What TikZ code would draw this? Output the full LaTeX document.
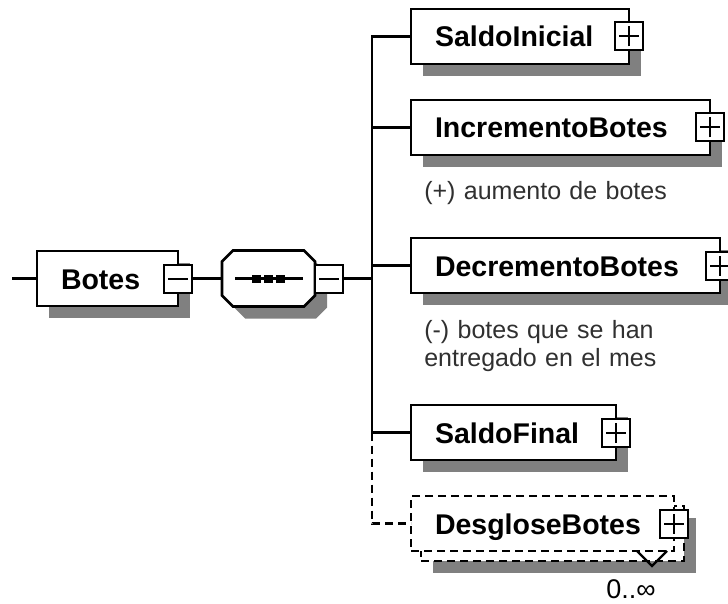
\documentclass[tikz,border=0pt]{standalone}
\usepackage{fontspec}
\setmainfont{Liberation Sans}
\usetikzlibrary{positioning,shadows}
\definecolor{shadowgray}{HTML}{808080}
\definecolor{notegray}{HTML}{303030}
\newcommand{\elemfont}{\fontsize{28.5}{32}\selectfont\bfseries}
\newcommand{\notefont}{\fontsize{25}{28}\selectfont}
\newcommand{\occfont}{\fontsize{27}{28}\selectfont}
\tikzset{
  box/.style={draw, fill=white, line width=2.6pt, outer sep=0pt, font=\elemfont,
    inner xsep=24pt, inner ysep=0pt, minimum height=55pt,
    text height=21pt, text depth=0pt, align=left},
  dropsh/.style={drop shadow={shadow xshift=12pt, shadow yshift=-12pt, fill=shadowgray, opacity=1}},
  elem/.style={box, dropsh},
  optelem/.style={box, dash pattern=on 8pt off 5pt},
  optline/.style={dash pattern=on 8pt off 5pt},
  seqbox/.style={outer sep=0pt, minimum width=93pt, minimum height=56pt, inner sep=0pt},
  expbox/.style={draw, fill=white, line width=2pt, minimum size=28pt, inner sep=0pt, outer sep=0pt},
  minusbox/.style={expbox, path picture={
    \draw[line width=2pt] ([xshift=4pt]path picture bounding box.west) -- ([xshift=-4pt]path picture bounding box.east);}},
  plusbox/.style={expbox, path picture={
    \draw[line width=2pt] ([xshift=4pt]path picture bounding box.west) -- ([xshift=-4pt]path picture bounding box.east);
    \draw[line width=2pt] ([yshift=4pt]path picture bounding box.south) -- ([yshift=-4pt]path picture bounding box.north);}},
  note/.style={font=\notefont, text=notegray, inner sep=0pt, align=left, text width=250pt}
}
\begin{document}
\begin{tikzpicture}[x=1pt, y=-1pt, node distance=36pt, line width=2.6pt]
  \useasboundingbox (0,0) rectangle (728,604);
  % root element
  \node (botes) [elem, text width=93pt, anchor=west] at (37,278.5) {Botes};
  \node (botes-exp) [minusbox] at (botes.east) {};
  \coordinate [left=25pt of botes] (start);
  \draw (start) -- (botes);
  % sequence compositor
  \node (seq) [seqbox, right=30pt of botes-exp] {};
  \filldraw[fill=white, dropsh] ([xshift=11pt]seq.north west) -- ([xshift=-11pt]seq.north east)
    -- ([yshift=-11pt]seq.north east) -- ([yshift=11pt]seq.south east)
    -- ([xshift=-11pt]seq.south east) -- ([xshift=11pt]seq.south west)
    -- ([yshift=11pt]seq.south west) -- ([yshift=-11pt]seq.north west) -- cycle;
  \node (seq-exp) [minusbox, right=0pt of seq] {};
  \draw (botes-exp) -- (seq);
  \draw ([xshift=13pt]seq.west) -- ([xshift=-12pt]seq.east);
  \foreach \dx in {-12,0,12}
    \fill ([xshift=\dx pt]seq.center) +(-4.5,-4) rectangle +(4.5,4);
  \coordinate [right=29pt of seq-exp] (bus);
  % children
  \node (ini) [elem, text width=170pt, anchor=west] at (411,36.5) {SaldoInicial};
  \node (inc) [elem, text width=251pt, below=of ini.south west, anchor=north west] {IncrementoBotes};
  \node (dec) [elem, text width=261pt, below=83pt of inc.south west, anchor=north west] {DecrementoBotes};
  \node (fin) [elem, text width=157pt, below=112pt of dec.south west, anchor=north west] {SaldoFinal};
  \node (desb) [optelem, dropsh, text width=215pt, below=46pt of fin.south west, anchor=north west, xshift=10pt] {};
  \node (des) [optelem, text width=215pt, below=of fin.south west, anchor=north west] {DesgloseBotes};
  \foreach \n in {ini,inc,dec,fin,des}
    \node (\n-exp) [plusbox] at (\n.east) {};
  % connectors
  \draw (seq-exp) -- (bus);
  \foreach \n in {ini,inc,dec,fin}
    \draw (bus) |- (\n);
  \draw[optline] (fin.west -| bus) |- (des);
  % annotations
  \node (inc-note) [note, anchor=base west] at ([xshift=12pt, yshift=-45pt]inc.south west) {(+) aumento de botes};
  \node (dec-note) [note, anchor=base west] at ([xshift=12pt, yshift=-45pt]dec.south west) {(-) botes que se han\\entregado en el mes};
  \draw[line width=2.2pt] ([xshift=-37pt]des.south east) -- ++(15,15) -- ++(15,-15);
  \node (occ) [anchor=base, font=\occfont, inner sep=0pt] at ([xshift=-43pt, yshift=-47pt]des.south east) {0..∞};
\end{tikzpicture}
\end{document}
